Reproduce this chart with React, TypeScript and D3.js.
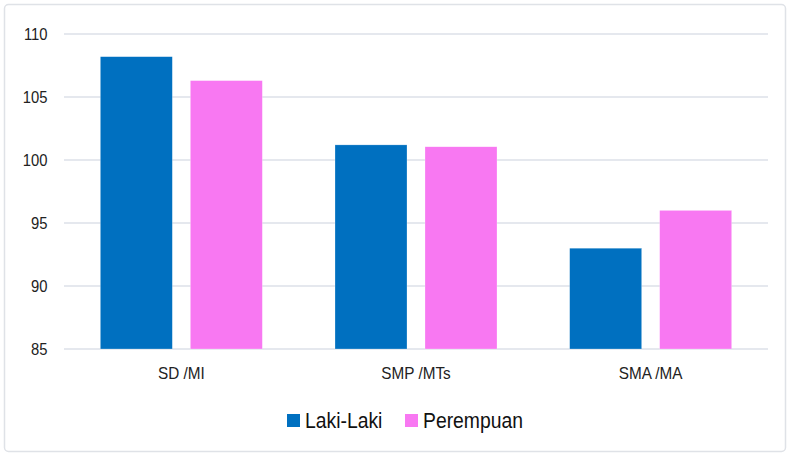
import React from "react";
import * as d3 from "d3";

const categories = ["SD /MI", "SMP /MTs", "SMA /MA"];
const seriesNames = ["Laki-Laki", "Perempuan"];
const lakiLaki = [108.2, 101.2, 93.0];
const perempuan = [106.3, 101.05, 96.0];
const yTicks = [85, 90, 95, 100, 105, 110];
const colors = ["#0070C0", "#F878F2"];

const font = "'Liberation Sans', Arial, sans-serif";

function T(props: { x: number; y: number; size: number; anchor?: string; sx?: number; fill?: string; children: React.ReactNode }) {
  const { x, y, size, anchor = "start", sx = 0.9, fill = "#222", children } = props;
  return (
    <text transform={`translate(${x},${y}) scale(${sx},1)`} textAnchor={anchor} fontFamily={font} fontSize={size} fill={fill}>
      {children}
    </text>
  );
}

export default function App() {
  const W = 790, H = 456;
  const left = 64, right = 768, top = 34, bottom = 349;
  const x = d3.scaleBand<string>().domain(categories).range([left, right]).paddingInner(0).paddingOuter(0);
  const y = d3.scaleLinear().domain([85, 110]).range([bottom, top]);
  const barW = 72, gap = 18;
  const series = [lakiLaki, perempuan];
  return (
    <svg width={W} height={H} style={{ position: "absolute", left: 0, top: 0 }}>
      <rect x={0} y={0} width={W} height={H} fill="#fff" />
      <rect x={4.5} y={4.5} width={781} height={447} rx={4} fill="#fff" stroke="#dfe2e7" strokeWidth={1.5} />
      {yTicks.map((t) => (
        <g key={t}>
          <line x1={left} x2={right} y1={y(t)} y2={y(t)} stroke="#dde1e8" strokeWidth={1.5} />
          <T x={47.5} y={y(t) + 6.2} size={17} anchor="end" sx={0.87}>{t}</T>
        </g>
      ))}
      {categories.map((c, i) => {
        const cx = x(c)! + x.bandwidth() / 2;
        return (
          <g key={c}>
            {series.map((s, j) => {
              const bx = cx - gap / 2 - barW + j * (barW + gap);
              return (
                <rect key={j} x={bx} y={y(s[i])} width={barW} height={y(85) - y(s[i])} fill={colors[j]} stroke="rgba(255,255,255,0.5)" strokeWidth={0.5} />
              );
            })}
            <T x={cx} y={379.3} size={16.8} anchor="middle" sx={0.91}>{c}</T>
          </g>
        );
      })}
      {seriesNames.map((n, j) => {
        const lx = j === 0 ? 287 : 405;
        return (
          <g key={n}>
            <rect x={lx} y={414} width={13} height={13} fill={colors[j]} />
            <T x={lx + 18} y={428.3} size={21.5} sx={0.9} fill="#111">{n}</T>
          </g>
        );
      })}
    </svg>
  );
}
